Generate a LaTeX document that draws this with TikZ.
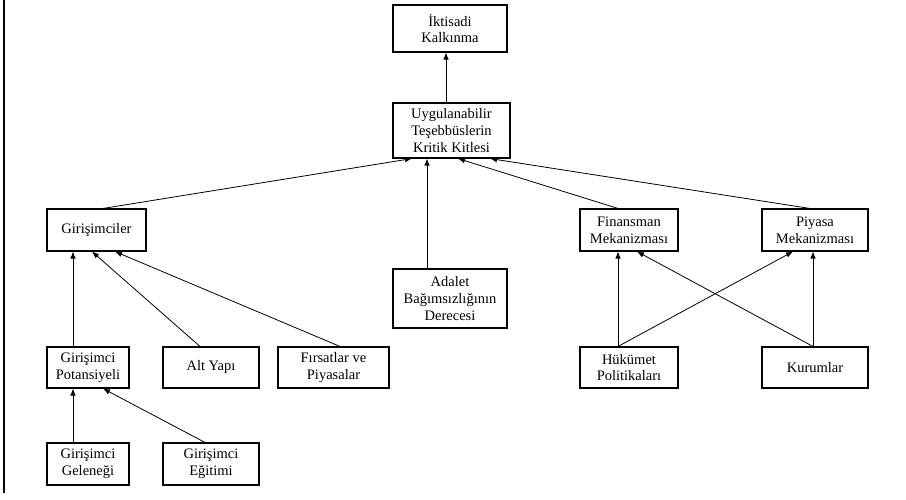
\documentclass[tikz,border=0pt]{standalone}
\usepackage{fontspec}
\setmainfont{Liberation Serif}
\usetikzlibrary{arrows.meta}
\tikzset{
  box/.style={draw, line width=1.1pt, inner sep=0pt, align=center,
    font=\fontsize{14.5}{16.7}\selectfont},
  arr/.style={line width=0.8pt, -{Latex[length=7pt,width=5.5pt]}},
  frameline/.style={line width=1.5pt}
}
\begin{document}
\begin{tikzpicture}[x=1pt,y=-1pt]
\useasboundingbox (0,0) rectangle (906,499);
\coordinate (ft) at (4,0);
\coordinate (fb) at (4,493);
\draw[frameline] (ft) -- (fb);

\node[box, minimum width=114pt, minimum height=47pt] (ik) at (450,28.5) {İktisadi\\Kalkınma};
\node[box, minimum width=117pt, minimum height=55pt] (uyg) at (451.5,130.5) {Uygulanabilir\\Teşebbüslerin\\Kritik Kitlesi};
\node[box, minimum width=99pt, minimum height=42pt] (gir) at (96.5,230) {Girişimciler};
\node[box, minimum width=98pt, minimum height=42pt] (fin) at (629,230) {Finansman\\Mekanizması};
\node[box, minimum width=106pt, minimum height=42pt] (piy) at (815,230) {Piyasa\\Mekanizması};
\node[box, minimum width=114pt, minimum height=59pt] (adl) at (450,298.5) {Adalet\\Bağımsızlığının\\Derecesi};
\node[box, minimum width=82pt, minimum height=41pt] (pot) at (88,367.5) {Girişimci\\Potansiyeli};
\node[box, minimum width=96pt, minimum height=41pt] (alt) at (211,367.5) {Alt Yapı};
\node[box, minimum width=111pt, minimum height=41pt] (firs) at (333.5,367.5) {Fırsatlar ve\\Piyasalar};
\node[box, minimum width=98pt, minimum height=41pt] (huk) at (629,367.5) {Hükümet\\Politikaları};
\node[box, minimum width=106pt, minimum height=41pt] (kur) at (815,367.5) {Kurumlar};
\node[box, minimum width=82pt, minimum height=42pt] (gel) at (88,464) {Girişimci\\Geleneği};
\node[box, minimum width=96pt, minimum height=42pt] (egi) at (211,464) {Girişimci\\Eğitimi};

% to top
\draw[arr] ([xshift=-5.5pt]uyg.north) -- ([xshift=-5.5pt]uyg.north |- ik.south);
% to uyg
\draw[arr] ([xshift=6.5pt]gir.north) -- ([xshift=-39.5pt]uyg.south);
\draw[arr] ([xshift=-23pt]adl.north) -- ([xshift=-23pt]adl.north |- uyg.south);
\draw[arr] ([xshift=-11pt]fin.north) -- ([xshift=6.5pt]uyg.south);
\draw[arr] ([xshift=-5pt]piy.north) -- ([xshift=38.5pt]uyg.south);
% to gir
\draw[arr] ([xshift=-15pt]pot.north) -- ([xshift=-15pt]pot.north |- gir.south);
\draw[arr] ([xshift=-11pt]alt.north) -- ([xshift=-4.5pt]gir.south);
\draw[arr] ([xshift=6.5pt]firs.north) -- ([xshift=18.5pt]gir.south);
% to pot
\draw[arr] ([xshift=-15pt]gel.north) -- ([xshift=-15pt]gel.north |- pot.south);
\draw[arr] ([xshift=-6pt]egi.north) -- ([xshift=15pt]pot.south);
% right side
\draw[arr] ([xshift=-11pt]huk.north) -- ([xshift=-11pt]huk.north |- fin.south);
\draw[arr] ([xshift=-11pt]huk.north) -- ([xshift=-22pt]piy.south);
\draw[arr] ([xshift=-2pt]kur.north) -- ([xshift=-2pt]kur.north |- piy.south);
\draw[arr] ([xshift=-2pt]kur.north) -- ([xshift=8pt]fin.south);
\end{tikzpicture}
\end{document}
